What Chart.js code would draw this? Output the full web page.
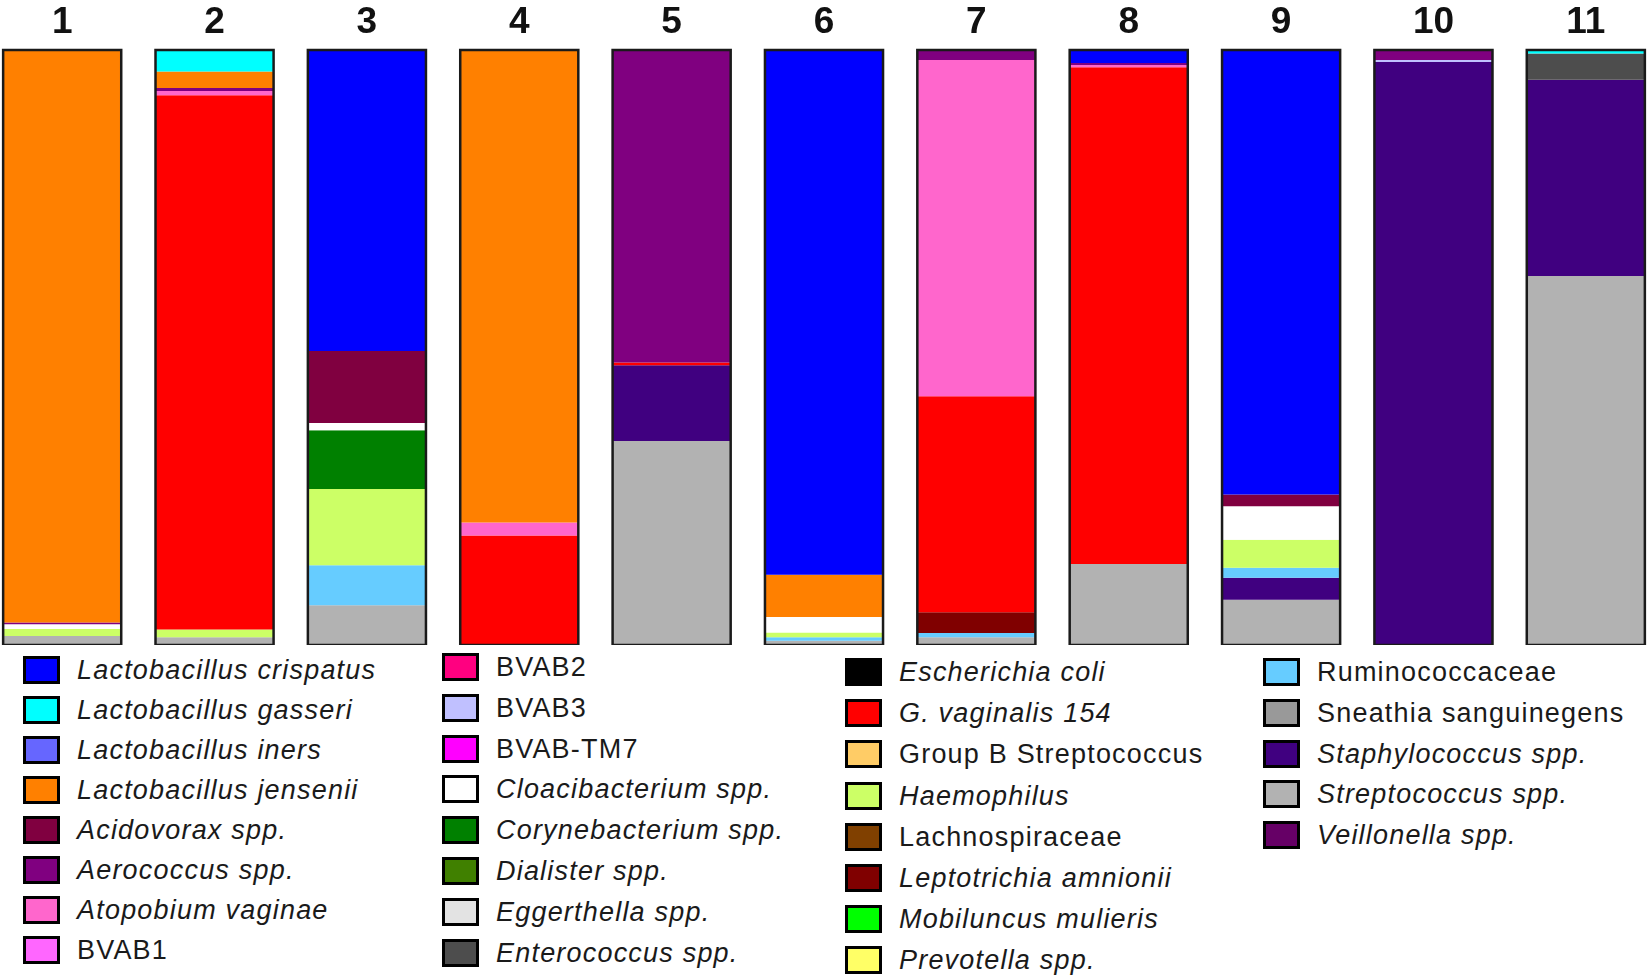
<!DOCTYPE html>
<html>
<head>
<meta charset="utf-8">
<script src="https://cdn.jsdelivr.net/npm/chart.js@4.4.0/dist/chart.umd.min.js"></script>
<style>
  html, body { margin: 0; padding: 0; background: #fff; overflow: hidden; }
  body { width: 1650px; height: 977px; position: relative; font-family: "Liberation Sans", Arial, sans-serif; }
  .chart-box { position: absolute; left: -14px; top: -5px; width: 1676px; height: 650px; }
  .legend-item { position: absolute; left: 0; height: 40px; white-space: nowrap; }
  .legend-item .sw { position: absolute; left: 0; top: 6px; width: 37px; height: 28px; box-sizing: border-box; border: 3px solid #000; }
  .legend-item .lbl { position: absolute; left: 54px; top: 0; line-height: 40px; font-size: 27px; letter-spacing: 1.2px; color: #1a1a1a; }
  .legend-item .lbl.it { font-style: italic; }
</style>
</head>
<body>
<div class="chart-box"><canvas id="bars"></canvas></div>
<div id="legend"></div>

<script>
// samples along the top
const samples = ['1', '2', '3', '4', '5', '6', '7', '8', '9', '10', '11'];

// taxa, in legend order (also the top-to-bottom order inside a bar)
const taxa = [
  'Lactobacillus crispatus', 'Lactobacillus gasseri', 'Lactobacillus iners', 'Lactobacillus jensenii',
  'Acidovorax spp.', 'Aerococcus spp.', 'Atopobium vaginae', 'BVAB1',
  'BVAB2', 'BVAB3', 'BVAB-TM7', 'Cloacibacterium spp.',
  'Corynebacterium spp.', 'Dialister spp.', 'Eggerthella spp.', 'Enterococcus spp.',
  'Escherichia coli', 'G. vaginalis 154', 'Group B Streptococcus', 'Haemophilus',
  'Lachnospiraceae', 'Leptotrichia amnionii', 'Mobiluncus mulieris', 'Prevotella spp.',
  'Ruminococcaceae', 'Sneathia sanguinegens', 'Staphylococcus spp.', 'Streptococcus spp.',
  'Veillonella spp.'
];

// relative abundance (%) per sample 1..11
const crispatus       = [0, 0, 50.6, 0, 0, 88.2, 0, 2.2, 74.7, 0, 0];
const gasseri         = [0, 3.6, 0, 0, 0, 0, 0, 0, 0, 0, 0.6];
const jensenii        = [96.2, 2.8, 0, 79.4, 0, 7.1, 0, 0, 0, 0, 0];
const acidovorax      = [0, 0, 12.1, 0, 0, 0, 0, 0, 2.0, 0, 0];
const aerococcus      = [0.3, 0.5, 0, 0, 52.5, 0, 1.7, 0.3, 0, 1.7, 0];
const atopobium       = [0, 0.7, 0, 2.2, 0, 0, 56.5, 0.4, 0, 0, 0];
const bvab3           = [0, 0, 0, 0, 0, 0, 0, 0, 0, 0.3, 0];
const cloacibacterium = [0.8, 0, 1.2, 0, 0, 2.6, 0, 0, 5.6, 0, 0];
const corynebacterium = [0, 0, 9.9, 0, 0, 0, 0, 0, 0, 0, 0];
const enterococcus    = [0, 0, 0, 0, 0, 0, 0, 0, 0, 0, 4.4];
const gvaginalis      = [0, 89.8, 0, 18.4, 0.5, 0, 36.3, 83.5, 0, 0, 0];
const haemophilus     = [1.2, 1.3, 12.8, 0, 0, 0.8, 0, 0, 4.7, 0, 0];
const leptotrichia    = [0, 0, 0, 0, 0, 0, 3.5, 0, 0, 0, 0];
const ruminococcaceae = [0, 0, 6.7, 0, 0, 0.6, 0.7, 0, 1.7, 0, 0];
const staphylococcus  = [0, 0, 0, 0, 12.7, 0, 0, 0, 3.7, 98.0, 33.0];
const streptococcus   = [1.5, 1.3, 6.7, 0, 34.3, 0.7, 1.3, 13.6, 7.6, 0, 62.0];

// which taxon has which series (others are absent from every sample)
const seriesByTaxon = {
  'Lactobacillus crispatus': crispatus,
  'Lactobacillus gasseri': gasseri,
  'Lactobacillus jensenii': jensenii,
  'Acidovorax spp.': acidovorax,
  'Aerococcus spp.': aerococcus,
  'Atopobium vaginae': atopobium,
  'BVAB3': bvab3,
  'Cloacibacterium spp.': cloacibacterium,
  'Corynebacterium spp.': corynebacterium,
  'Enterococcus spp.': enterococcus,
  'G. vaginalis 154': gvaginalis,
  'Haemophilus': haemophilus,
  'Leptotrichia amnionii': leptotrichia,
  'Ruminococcaceae': ruminococcaceae,
  'Staphylococcus spp.': staphylococcus,
  'Streptococcus spp.': streptococcus
};

// styles
const taxonColors = [
  '#0000FF', '#00FFFF', '#6666FF', '#FF8000',
  '#800040', '#800080', '#FF66CC', '#FF66FF',
  '#FF0080', '#C0C0FF', '#FF00FF', '#FFFFFF',
  '#008000', '#408000', '#E3E3E3', '#4D4D4D',
  '#000000', '#FF0000', '#FFCC66', '#CCFF66',
  '#804000', '#800000', '#00FF00', '#FFFF66',
  '#66CCFF', '#999999', '#400080', '#B2B2B2',
  '#660066'
];
const uprightNames = ['BVAB1', 'BVAB2', 'BVAB3', 'BVAB-TM7', 'Group B Streptococcus',
                      'Lachnospiraceae', 'Ruminococcaceae', 'Sneathia sanguinegens'];

const datasets = taxa.map((name, i) => ({
  label: name,
  data: seriesByTaxon[name] || samples.map(() => 0),
  backgroundColor: taxonColors[i],
  borderWidth: 0,
  barPercentage: 0.775,
  categoryPercentage: 1.0
}));

// black outline round each whole bar
const barOutline = {
  id: 'barOutline',
  afterDatasetsDraw(chart) {
    const ctx = chart.ctx;
    const y = chart.scales.y;
    const meta = chart.getDatasetMeta(0);
    ctx.save();
    ctx.strokeStyle = '#1a1a1a';
    ctx.lineWidth = 2.5;
    meta.data.forEach((bar, i) => {
      let total = 0;
      chart.data.datasets.forEach(ds => { total += ds.data[i]; });
      const top = y.getPixelForValue(0);
      const bottom = y.getPixelForValue(total);
      const w = bar.width;
      ctx.strokeRect(bar.x - w / 2, top, w, bottom - top);
    });
    ctx.restore();
  }
};

new Chart(document.getElementById('bars'), {
  type: 'bar',
  data: { labels: samples, datasets: datasets },
  options: {
    responsive: true,
    maintainAspectRatio: false,
    animation: false,
    layout: { padding: 0 },
    plugins: { legend: { display: false }, tooltip: { enabled: false } },
    scales: {
      x: {
        position: 'top',
        stacked: true,
        grid: { display: false, drawTicks: false },
        border: { display: false },
        ticks: {
          color: '#111',
          padding: 9,
          font: { family: "'Liberation Sans', Arial, sans-serif", size: 37, weight: 'bold', lineHeight: 1.0 }
        }
      },
      y: {
        stacked: true,
        reverse: true,
        min: 0,
        max: 100,
        display: false
      }
    }
  },
  plugins: [barOutline]
});

// legend: four columns of eight rows
const legendBox = document.getElementById('legend');
const colLefts = [23, 442, 845, 1263];
const colShift = [0, -3, 2, 2];
const colStep = [40.0, 40.8, 41.2, 40.8];
const rowTop = 650;
taxa.forEach((name, i) => {
  const col = Math.floor(i / 8);
  const row = i % 8;
  const item = document.createElement('div');
  item.className = 'legend-item';
  item.style.left = colLefts[col] + 'px';
  item.style.top = (rowTop + colShift[col] + row * colStep[col]) + 'px';
  const sw = document.createElement('span');
  sw.className = 'sw';
  sw.style.background = taxonColors[i];
  const lbl = document.createElement('span');
  lbl.className = uprightNames.includes(name) ? 'lbl' : 'lbl it';
  lbl.textContent = name;
  item.appendChild(sw);
  item.appendChild(lbl);
  legendBox.appendChild(item);
});
</script>
</body>
</html>
